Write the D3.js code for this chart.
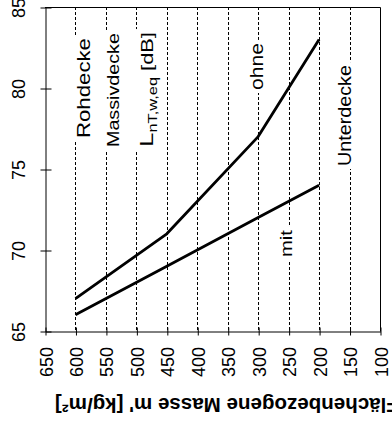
<!DOCTYPE html>
<html><head><meta charset="utf-8">
<script src="https://cdn.jsdelivr.net/npm/d3@7"></script>
<style>
body{margin:0;background:#fff}
svg{display:block}
text{font-family:"Liberation Sans",Arial,sans-serif;fill:#000}
</style>
</head><body>
<svg id="c" width="392" height="421"></svg>
<script>
// ---- data ----
const massTicks = [650,600,550,500,450,400,350,300,250,200,150,100];
const gridMass  = [600,550,500,450,400,350,300,250,200,150];
const dbTicks   = [65,70,75,80,85];
const ohneMass  = [600,450,300,200];
const ohneDb    = [67,71,77,83];
const mitMass   = [600,450,300,200];
const mitDb     = [66,69,72,74];
const xTitle    = "Flächenbezogene Masse m' [kg/m²]";

// ---- layout ----
const svg = d3.select("#c");
const x = d3.scaleLinear().domain([650,100]).range([45,380]);
const y = d3.scaleLinear().domain([65,85]).range([331,7]);
const px = v => Math.round(x(v)) + 0.5;

// dashed gridlines
svg.append("g").selectAll("line").data(gridMass).join("line")
  .attr("x1", d => px(d)).attr("x2", d => px(d))
  .attr("y1", y(85)).attr("y2", y(65))
  .attr("stroke", "#000").attr("stroke-width", 1)
  .attr("stroke-dasharray", "3,2");

// frame top & right
svg.append("line").attr("x1", 45).attr("x2", 380.5).attr("y1", 7.5).attr("y2", 7.5)
  .attr("stroke", "#000");
svg.append("line").attr("x1", 380.5).attr("x2", 380.5).attr("y1", 7.5).attr("y2", 331.5)
  .attr("stroke", "#000");

// left axis
const gy = svg.append("g").attr("transform", "translate(45.5,0.5)")
  .call(d3.axisLeft(y).tickValues(dbTicks).tickSize(5).tickSizeOuter(0).tickFormat(d3.format("d")));
gy.select(".domain").attr("stroke", "#000");
gy.selectAll(".tick line").attr("x1", 6).attr("stroke", "#000");
gy.selectAll(".tick text")
  .attr("x", null).attr("dy", null).attr("y", null)
  .attr("text-anchor", "middle")
  .attr("transform", "translate(-21,0) rotate(-90)")
  .style("font-size", "18px").style("font-family", "Liberation Sans, Arial, sans-serif");

// bottom axis
const gx = svg.append("g").attr("transform", "translate(0.5,331.5)")
  .call(d3.axisBottom(x).tickValues(massTicks).tickSize(4).tickSizeOuter(0).tickFormat(d3.format("d")));
gx.select(".domain").attr("stroke", "#000");
gx.selectAll(".tick line").attr("y1", -4).attr("stroke", "#000");
gx.selectAll(".tick text")
  .attr("x", null).attr("dy", null).attr("y", null)
  .attr("text-anchor", "end")
  .attr("transform", "translate(6.5,15.5) rotate(-90)")
  .style("font-size", "18px").style("font-family", "Liberation Sans, Arial, sans-serif");
gy.attr("font-size", null); gx.attr("font-size", null);

// curves
const line = d3.line().x(d => x(d[0])).y(d => y(d[1]));
const ohne = ohneMass.map((m,i) => [m, ohneDb[i]]);
const mit  = mitMass.map((m,i) => [m, mitDb[i]]);
[ohne, mit].forEach(s => {
  svg.append("path").datum(s).attr("d", line)
    .attr("fill", "none").attr("stroke", "#000")
    .attr("stroke-width", 2.8).attr("stroke-linejoin", "round");
});

// labels (rotated, with white background over the gridlines)
function label(parts, bx, sy, len) {
  const g = svg.append("g");
  const rect = g.append("rect").attr("fill", "#fff");
  const t = g.append("text").attr("x", 0).attr("y", 0);
  parts.forEach(p => {
    const ts = t.append("tspan").text(p.t).style("font-size", p.fs + "px");
    if (p.dy) ts.attr("dy", p.dy);
  });
  const L = t.node().getComputedTextLength();
  const s = len / L;
  g.attr("transform", `translate(${bx},${sy}) rotate(-90) scale(${s},1)`);
  const b = t.node().getBBox();
  rect.attr("x", b.x - 3 / s).attr("y", b.y - 2).attr("width", b.width + 6 / s).attr("height", b.height + 4);
}
label([{t:"Rohdecke", fs:17.5}], 90, 138, 100);
label([{t:"Massivdecke", fs:16}], 118.5, 147, 114);
label([{t:"L", fs:19},{t:"nT,w,eq", fs:12, dy:4},{t:" [dB]", fs:16, dy:-4}], 153, 147, 115);
label([{t:"ohne", fs:18}], 263, 90, 47);
label([{t:"mit", fs:16.5}], 292, 257, 27);
label([{t:"Unterdecke", fs:19}], 350.5, 166, 101);

// upside-down x-axis title
const tt = svg.append("text").text(xTitle)
  .attr("text-anchor", "end")
  .style("font-size", "21px").style("font-weight", "bold");
const tl = tt.node().getComputedTextLength();
tt.attr("transform", `translate(55,398) rotate(180) scale(${344 / tl},1)`);
</script>
</body></html>
